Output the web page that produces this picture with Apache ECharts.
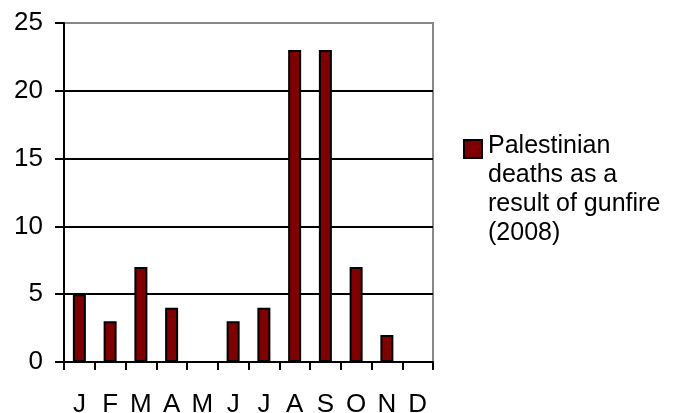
<!DOCTYPE html>
<html>
<head>
<meta charset="utf-8">
<script src="https://cdn.jsdelivr.net/npm/echarts@6/dist/echarts.min.js"></script>
<style>
  html, body { margin: 0; padding: 0; background: #fff; }
  #chart { width: 678px; height: 413px; }
</style>
</head>
<body>
<div id="chart"></div>
<script>
var months = ['J', 'F', 'M', 'A', 'M', 'J', 'J', 'A', 'S', 'O', 'N', 'D'];
var deaths = [5, 3, 7, 4, 0, 3, 4, 23, 23, 7, 2, 0];
var seriesName = 'Palestinian deaths as a result of gunfire (2008)';
var legendLines = ['Palestinian', 'deaths as a', 'result of gunfire', '(2008)'];

var font = 'Liberation Sans, Arial, sans-serif';
var chart = echarts.init(document.getElementById('chart'));

chart.setOption({
  backgroundColor: '#fff',
  animation: false,
  grid: {
    left: 64,
    right: 245,
    top: 23,
    bottom: 51,
    outerBoundsMode: 'none',
    show: true,
    borderColor: '#888',
    borderWidth: 2
  },
  xAxis: {
    type: 'category',
    data: months,
    axisLine: { lineStyle: { color: '#000', width: 2 } },
    axisTick: { show: true, length: 8, lineStyle: { color: '#000', width: 2 } },
    axisLabel: { color: '#000', fontSize: 26, fontFamily: font, margin: 30 }
  },
  yAxis: {
    type: 'value',
    min: 0,
    max: 25,
    interval: 5,
    axisLine: { show: true, lineStyle: { color: '#000', width: 2 } },
    axisTick: { show: true, length: 9, lineStyle: { color: '#000', width: 2 } },
    axisLabel: { color: '#000', fontSize: 26, fontFamily: font, margin: 21 },
    splitLine: {
      lineStyle: { color: ['#000', '#000', '#000', '#000', '#000', '#888'], width: 2 }
    }
  },
  series: [{
    name: seriesName,
    type: 'bar',
    data: deaths,
    barWidth: 13,
    itemStyle: { color: '#7f0000', borderColor: '#000', borderWidth: 2 }
  }],
  // legend drawn by hand so the box sits beside the first line
  graphic: [
    {
      type: 'rect',
      left: 463,
      top: 139,
      shape: { width: 18, height: 18 },
      style: { fill: '#7f0000', stroke: '#000', lineWidth: 2 }
    },
    {
      type: 'text',
      left: 488,
      top: 132,
      style: {
        text: legendLines.join('\n'),
        fill: '#000',
        font: '25px ' + font,
        lineHeight: 29
      }
    }
  ]
});
</script>
</body>
</html>
